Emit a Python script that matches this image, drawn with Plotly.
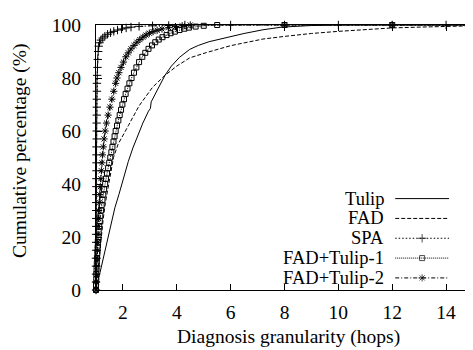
import plotly.graph_objects as go

# ---------------- data ----------------
tulip_x = [1.0, 1.05, 1.15, 1.27, 1.4, 1.55, 1.7, 1.85, 1.96, 2.07, 2.2, 2.37, 2.55, 2.74, 2.95, 3.02, 3.05, 3.3, 3.56, 3.8, 4.1, 4.48, 4.8, 5.2, 5.6, 6.0, 6.5, 7.2, 7.9, 9.0, 10.0, 12.0, 15.0]
tulip_y = [0, 3, 6.6, 12, 17.5, 24, 31, 36, 40, 44, 48.5, 53.6, 58.5, 63, 67.5, 68.5, 71, 76, 81, 84.5, 87.8, 90.8, 92.3, 93.7, 94.7, 95.6, 96.8, 98.2, 99.2, 99.8, 100, 100, 100]

fad_x = [1.0, 1.05, 1.1, 1.15, 1.2, 1.27, 1.35, 1.45, 1.52, 1.65, 1.82, 2.0, 2.2, 2.6, 3.1, 3.56, 4.0, 4.48, 5.1, 6.0, 7.2, 8.0, 9.0, 10.0, 11.0, 12.0, 13.0, 14.0, 15.0]
fad_y = [0, 5, 10, 17, 21, 27, 33, 39, 42.6, 50, 55, 58.5, 62, 69.5, 76.5, 81, 84.5, 87.6, 89.6, 92.2, 94.7, 95.7, 96.8, 97.6, 98.3, 98.9, 99.2, 99.5, 99.7]

spa_x = [1.0, 1.0, 1.0, 1.0, 1.0, 1.005, 1.005, 1.005, 1.01, 1.01, 1.01, 1.01, 1.015, 1.015, 1.015, 1.02, 1.02, 1.02, 1.02, 1.025, 1.025, 1.025, 1.03, 1.03, 1.03, 1.035, 1.035,
         1.045, 1.055, 1.065, 1.08, 1.1, 1.13, 1.18, 1.25, 1.33, 1.43, 1.54, 1.66, 1.8, 1.95, 2.12, 2.3, 2.6, 3.1, 3.7, 4.3,
         6.0, 8.0, 10.0, 12.0, 14.0, 15.0]
spa_y = [0, 3, 6, 9, 12, 15, 18, 21, 24, 27, 30, 33, 36, 39, 42, 45, 48, 51, 54, 57, 60, 63, 66, 69, 72, 75, 78,
         81, 84, 87, 90, 92, 93.3, 94.3, 95.1, 95.8, 96.5, 97.1, 97.6, 98.1, 98.5, 98.9, 99.2, 99.5, 99.7, 99.8, 100,
         100, 100, 100, 100, 100, 100]

ft1_x = [1.0, 1.0, 1.01, 1.01, 1.02, 1.03, 1.04, 1.05, 1.06, 1.07,
         1.09, 1.1, 1.12, 1.14, 1.16, 1.19, 1.21, 1.24, 1.27, 1.3,
         1.34, 1.37, 1.41, 1.45, 1.49, 1.53, 1.57, 1.61, 1.65, 1.69,
         1.73, 1.78, 1.83, 1.88, 1.93, 1.98, 2.04, 2.1, 2.17, 2.24,
         2.32, 2.41, 2.5, 2.6, 2.72,
         2.83, 2.95, 3.08, 3.2, 3.33, 3.47, 3.62, 3.77, 3.93, 4.1, 4.28, 4.45, 4.7, 5.0,
         5.5, 8.0, 12.0, 15.0]
ft1_y = [0, 2, 4, 6, 8, 10, 12, 14, 16, 18,
         20, 22, 24, 26, 28, 30, 32, 34, 36, 38,
         40, 42, 44, 46, 48, 50, 52, 54, 56, 58,
         60, 62, 64, 66, 68, 70, 72, 74, 76, 78,
         80, 82, 84, 86, 88,
         89.5, 91, 92.3, 93.5, 94.5, 95.4, 96.2, 96.9, 97.5, 98.1, 98.6, 99, 99.4, 99.7,
         100, 100, 100, 100]

ft2_x = [1.0, 1.01, 1.02, 1.03, 1.04, 1.05, 1.06, 1.07, 1.08, 1.09,
         1.1, 1.12, 1.14, 1.16, 1.18, 1.2, 1.22, 1.24, 1.27, 1.3,
         1.34, 1.39, 1.45, 1.52, 1.59, 1.66, 1.73,
         1.78, 1.85, 1.93, 2.02, 2.11, 2.2, 2.3, 2.41, 2.52, 2.63, 2.74, 2.86, 2.98, 3.12, 3.27, 3.45, 3.7, 3.95, 4.2,
         4.5, 8.0, 12.0, 15.0]
ft2_y = [0, 3, 6, 9, 12, 15, 18, 21, 24, 27,
         30, 33, 36, 39, 42, 45, 48, 51, 54, 57,
         60, 63, 66, 69, 72, 75, 78,
         80, 82, 84, 86, 88, 89.5, 91, 92.3, 93.5, 94.5, 95.4, 96.2, 96.9, 97.5, 98, 98.5, 99, 99.4, 99.7,
         100, 100, 100, 100]

x_ticks = [2, 4, 6, 8, 10, 12, 14]
y_ticks = [0, 20, 40, 60, 80, 100]

series_names = ["Tulip", "FAD", "SPA", "FAD+Tulip-1", "FAD+Tulip-2"]

# ---------------- styles ----------------
FONT = "Liberation Serif"
FS = 19.5
KEY_FS = 18.5
styles = {
    "Tulip": dict(dash="solid", symbol=None),
    "FAD": dict(dash="4px,2px", symbol=None),
    "SPA": dict(dash="1.5px,2px", symbol="cross-thin-open"),
    "FAD+Tulip-1": dict(dash="1px,1px", symbol="square-open"),
    "FAD+Tulip-2": dict(dash="4px,2px,1px,2px", symbol="asterisk-open"),
}
msize = {"SPA": 6, "FAD+Tulip-1": 5, "FAD+Tulip-2": 6}

data = {
    "Tulip": (tulip_x, tulip_y),
    "FAD": (fad_x, fad_y),
    "SPA": (spa_x, spa_y),
    "FAD+Tulip-1": (ft1_x, ft1_y),
    "FAD+Tulip-2": (ft2_x, ft2_y),
}

fig = go.Figure()
for name in series_names:
    xs, ys = data[name]
    st = styles[name]
    mode = "lines+markers" if st["symbol"] else "lines"
    kw = dict(line=dict(color="black", width=1, dash=st["dash"]))
    if st["symbol"]:
        kw["marker"] = dict(symbol=st["symbol"], size=msize[name], color="black",
                            line=dict(color="black", width=1))
    fig.add_trace(go.Scatter(x=xs, y=ys, mode=mode, name=name, showlegend=False,
                             cliponaxis=False, **kw))

# ---------------- page geometry (page has an 8px body margin) ----------------
OFF = 8
W, H = 473, 350
PLOT_L, PLOT_R, PLOT_T, PLOT_B = 96, 474, 16, 290   # plot area in window pixels
ML = PLOT_L - OFF
MT = PLOT_T - OFF
MR = (OFF + W) - PLOT_R
MB = (OFF + H) - PLOT_B
pw = PLOT_R - PLOT_L
ph = PLOT_B - PLOT_T

def px2paper_x(px):
    return (px - PLOT_L) / pw

def px2paper_y(py):
    return (PLOT_B - py) / ph

# ---------------- gnuplot-style key (text left, sample right) ----------------
key_text_right = 386
key_x0, key_x1 = 396, 450
key_top, key_step = 195.5, 20.5

for i, name in enumerate(series_names):
    ry = key_top + i * key_step
    st = styles[name]
    fig.add_annotation(x=px2paper_x(key_text_right), y=px2paper_y(ry), xref="paper", yref="paper",
                       text=name, showarrow=False, xanchor="right", yanchor="middle",
                       borderpad=0,
                       font=dict(family=FONT, size=KEY_FS, color="black"))
    kx = [px2paper_x(key_x0), px2paper_x((key_x0 + key_x1) / 2), px2paper_x(key_x1)]
    ky = [px2paper_y(ry)] * 3
    kw = dict(line=dict(color="black", width=1, dash=st["dash"]))
    if st["symbol"]:
        kw["marker"] = dict(symbol=st["symbol"], size=[0, msize[name], 0], color="black",
                            line=dict(color="black", width=1))
        mode = "lines+markers"
    else:
        mode = "lines"
    fig.add_trace(go.Scatter(x=kx, y=ky, mode=mode, xaxis="x2", yaxis="y2",
                             showlegend=False, hoverinfo="skip", cliponaxis=False, **kw))

# axis titles
fig.add_annotation(x=px2paper_x(289), y=px2paper_y(339), xref="paper", yref="paper",
                   text="Diagnosis granularity (hops)", showarrow=False,
                   xanchor="center", yanchor="middle",
                   font=dict(family=FONT, size=FS, color="black"))
fig.add_annotation(x=px2paper_x(20), y=px2paper_y(146), xref="paper", yref="paper",
                   text="Cumulative percentage (%)", showarrow=False, textangle=-90,
                   xanchor="center", yanchor="middle",
                   font=dict(family=FONT, size=FS, color="black"))

axis_common = dict(showgrid=False, zeroline=False, showline=True, linecolor="black",
                   linewidth=1, mirror="allticks", ticks="inside", ticklen=6,
                   tickwidth=1, tickcolor="black", ticklabeloverflow="allow",
                   tickfont=dict(family=FONT, size=FS, color="black"))

fig.update_layout(
    width=W, height=H,
    margin=dict(l=ML, r=MR, t=MT, b=MB),
    paper_bgcolor="white", plot_bgcolor="white",
    showlegend=False,
    xaxis=dict(range=[1, 15], tickvals=x_ticks, ticktext=[str(v) for v in x_ticks],
               ticklabelstandoff=5, **axis_common),
    yaxis=dict(range=[0, 100], tickvals=y_ticks, ticktext=[str(v) for v in y_ticks],
               ticklabelstandoff=10, **axis_common),
    xaxis2=dict(range=[0, 1], overlaying="x", visible=False),
    yaxis2=dict(range=[0, 1], overlaying="y", visible=False),
)

fig.write_html("out.html")
